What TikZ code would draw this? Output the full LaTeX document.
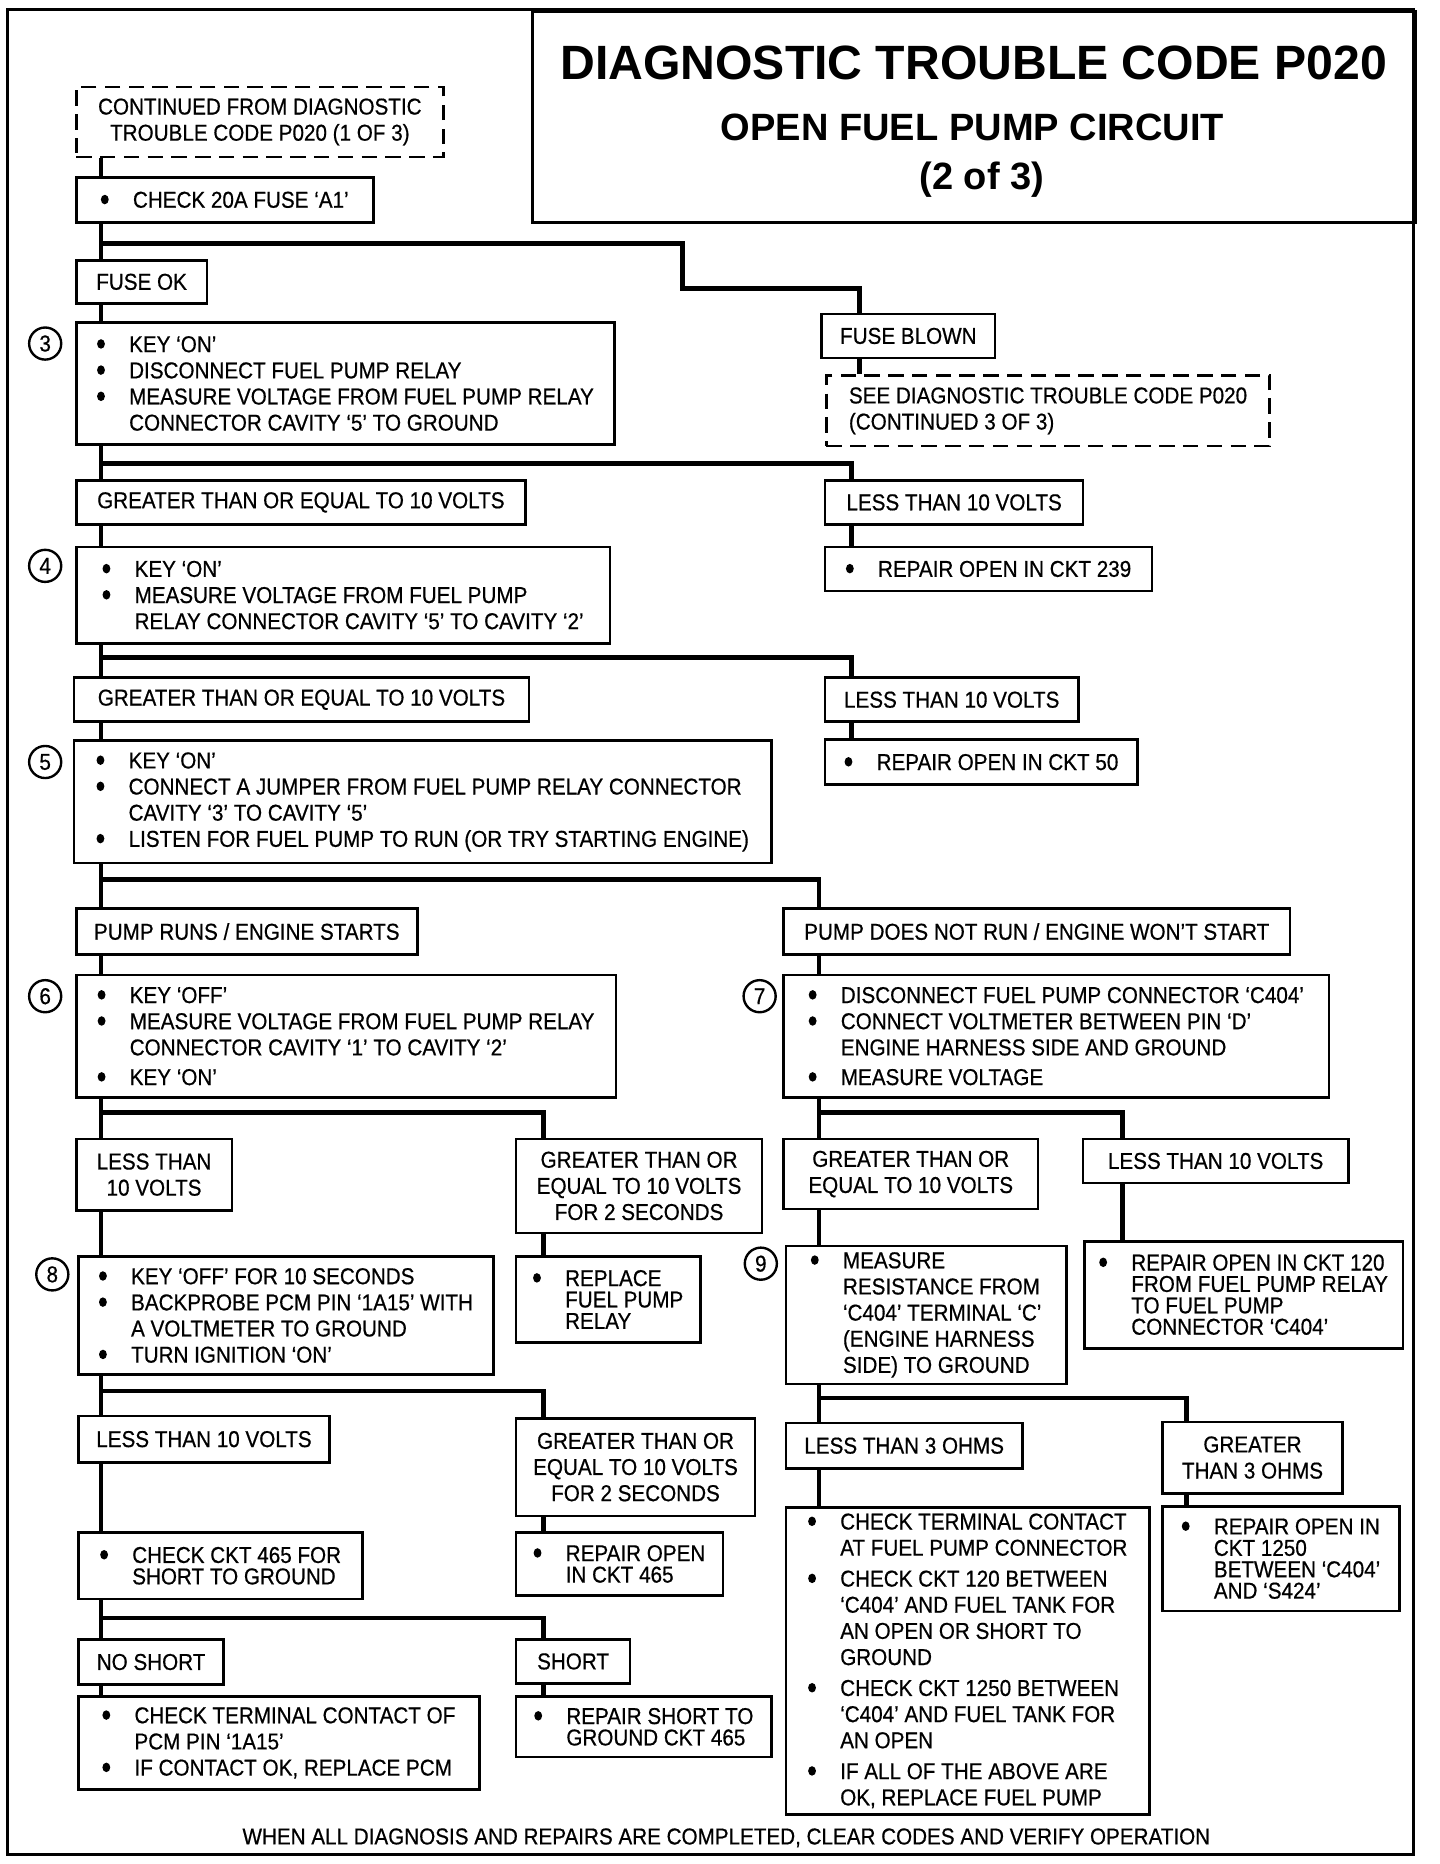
\documentclass[tikz,border=0pt]{standalone}
\usepackage{fontspec}
\setmainfont{Liberation Sans}[FakeStretch=0.9, FakeBold=0.6]
\newfontfamily\titlefont{Liberation Sans}
\usepackage{tikz}

\newcommand{\boxfont}{\fontsize{19.3}{22}\selectfont}
\newcommand{\tightfont}{\fontsize{19.3}{18}\selectfont}
\newcommand{\dotb}{\makebox[27pt][l]{\tikz[baseline=-6.9pt]\fill (0,0) ellipse (3.3pt and 4pt);}}
\newcommand{\ind}{\makebox[27pt]{}}

\begin{document}
\begin{tikzpicture}[x=1pt, y=-1pt,
    box/.style={draw, line width=2.2pt, anchor=north west, inner sep=0pt, font=\boxfont},
    lbl/.style={box, align=center},
    lst/.style={box, align=left},
    tight/.style={font=\tightfont},
    dsh/.style={dash pattern=on 13pt off 7pt},
    wire/.style={line width=4pt},
    num/.style={draw, circle, line width=2pt, minimum size=27pt, inner sep=0pt, font=\boxfont},
    sz/.style 2 args={minimum width=#1pt, minimum height=#2pt}]
        \useasboundingbox (0,0) rectangle (1211,1568);
        \draw[line width=2.6pt] (6,8) rectangle (1189,1560);

        % Title
        \node[box, sz={742}{178}, line width=2.6pt] (ttl) at (447,8) {};
        \node[font=\titlefont\bfseries\fontsize{40.5}{44}\selectfont] (t1) at (819,53) {DIAGNOSTIC TROUBLE CODE P020};
        \node[font=\titlefont\bfseries\fontsize{32}{36}\selectfont] (t2) at (818,107) {OPEN FUEL PUMP CIRCUIT};
        \node[font=\titlefont\bfseries\fontsize{32}{36}\selectfont] (t3) at (826,151) {(2 of 3)};

        % Fuse check
        \node[lbl, dsh, sz={309}{59}] (cont) at (63,72) {CONTINUED FROM DIAGNOSTIC\\TROUBLE CODE P020 (1 OF 3)};
        \node[lst, sz={250}{38}] (chk) at (63,148) {\dotb CHECK 20A FUSE `A1'};
        \node[lbl, sz={110}{36}] (fok) at (63,218) {FUSE OK};
        \node[lbl, sz={146}{37}] (fbl) at (690,263) {FUSE BLOWN};
        \node[lst, dsh, sz={373}{59}] (see) at (694,315) {SEE DIAGNOSTIC TROUBLE CODE P020\\(CONTINUED 3 OF 3)};

        % Step 3
        \node[num] (n3) at (38,289) {3};
        \node[lst, sz={453}{103}] (s3) at (63,270) {\dotb KEY `ON'\\
            \dotb DISCONNECT FUEL PUMP RELAY\\
            \dotb MEASURE VOLTAGE FROM FUEL PUMP RELAY\\
            \ind CONNECTOR CAVITY `5' TO GROUND};
        \node[lbl, sz={378}{37}] (ge1) at (63,403) {GREATER THAN OR EQUAL TO 10 VOLTS};
        \node[lbl, sz={217}{37}] (ls1) at (693,403) {LESS THAN 10 VOLTS};
        \node[lst, sz={275}{37}] (r239) at (693,459) {\dotb REPAIR OPEN IN CKT 239};

        % Step 4
        \node[num] (n4) at (38,476) {4};
        \node[lst, sz={449}{81}] (s4) at (63,459) {\dotb KEY `ON'\\
            \dotb MEASURE VOLTAGE FROM FUEL PUMP\\
            \ind RELAY CONNECTOR CAVITY `5' TO CAVITY `2'};
        \node[lbl, sz={383}{37}] (ge2) at (61,569) {GREATER THAN OR EQUAL TO 10 VOLTS};
        \node[lbl, sz={213}{37}] (ls2) at (693,569) {LESS THAN 10 VOLTS};
        \node[lst, sz={263}{38}] (r50) at (693,621) {\dotb REPAIR OPEN IN CKT 50};

        % Step 5
        \node[num] (n5) at (38,641) {5};
        \node[lst, sz={587}{103}] (s5) at (61,622) {\dotb KEY `ON'\\
            \dotb CONNECT A JUMPER FROM FUEL PUMP RELAY CONNECTOR\\
            \ind CAVITY `3' TO CAVITY `5'\\
            \dotb LISTEN FOR FUEL PUMP TO RUN (OR TRY STARTING ENGINE)};
        \node[lbl, sz={287}{39}] (prun) at (63,763) {PUMP RUNS / ENGINE STARTS};
        \node[lbl, sz={426}{39}] (pdn) at (658,763) {PUMP DOES NOT RUN / ENGINE WON'T START};

        % Steps 6 and 7
        \node[num] (n6) at (38,838) {6};
        \node[lst, sz={454}{103}] (s6) at (63,819) {\dotb KEY `OFF'\\
            \dotb MEASURE VOLTAGE FROM FUEL PUMP RELAY\\
            \ind CONNECTOR CAVITY `1' TO CAVITY `2'\\[3pt]
            \dotb KEY `ON'};
        \node[num] (n7) at (639,838) {7};
        \node[lst, sz={459}{103}] (s7) at (658,819) {\dotb DISCONNECT FUEL PUMP CONNECTOR `C404'\\
            \dotb CONNECT VOLTMETER BETWEEN PIN `D'\\
            \ind ENGINE HARNESS SIDE AND GROUND\\[3pt]
            \dotb MEASURE VOLTAGE};
        \node[lbl, sz={131}{60}] (lt1) at (63,957) {LESS THAN\\10 VOLTS};
        \node[lbl, sz={207}{79}] (ge4) at (433,957) {GREATER THAN OR\\EQUAL TO 10 VOLTS\\FOR 2 SECONDS};
        \node[lbl, sz={214}{59}] (ge3) at (658,957) {GREATER THAN OR\\EQUAL TO 10 VOLTS};
        \node[lbl, sz={223}{37}] (ls3) at (910,957) {LESS THAN 10 VOLTS};

        % Steps 8 and 9
        \node[num] (n8) at (44,1072) {8};
        \node[lst, sz={349}{99}] (s8) at (65,1056) {\dotb KEY `OFF' FOR 10 SECONDS\\
            \dotb BACKPROBE PCM PIN `1A15' WITH\\
            \ind A VOLTMETER TO GROUND\\
            \dotb TURN IGNITION `ON'};
        \node[lst, tight, sz={155}{72}] (rpl) at (433,1056) {\dotb REPLACE\\ \ind FUEL PUMP\\ \ind RELAY};
        \node[num] (n9) at (640,1063) {9};
        \node[lst, sz={236}{116}] (s9) at (660,1047) {\dotb MEASURE\\
            \ind RESISTANCE FROM\\
            \ind `C404' TERMINAL `C'\\
            \ind (ENGINE HARNESS\\
            \ind SIDE) TO GROUND};
        \node[lst, tight, sz={268}{90}] (r120) at (911,1043) {\dotb REPAIR OPEN IN CKT 120\\
            \ind FROM FUEL PUMP RELAY\\
            \ind TO FUEL PUMP\\
            \ind CONNECTOR `C404'};
        \node[lbl, sz={211}{39}] (ls4) at (65,1190) {LESS THAN 10 VOLTS};
        \node[lbl, sz={201}{82}] (ge5) at (433,1192) {GREATER THAN OR\\EQUAL TO 10 VOLTS\\FOR 2 SECONDS};
        \node[lbl, sz={199}{38}] (lt3) at (660,1196) {LESS THAN 3 OHMS};
        \node[lbl, sz={151}{60}] (gt3) at (977,1195) {GREATER\\THAN 3 OHMS};

        % Repairs
        \node[lst, tight, sz={239}{56}] (c465) at (65,1288) {\dotb CHECK CKT 465 FOR\\ \ind SHORT TO GROUND};
        \node[lst, tight, sz={174}{53}] (r465) at (433,1288) {\dotb REPAIR OPEN\\ \ind IN CKT 465};
        \node[lst, sz={306}{258}] (big) at (660,1267) {\dotb CHECK TERMINAL CONTACT\\
            \ind AT FUEL PUMP CONNECTOR\\[4pt]
            \dotb CHECK CKT 120 BETWEEN\\
            \ind `C404' AND FUEL TANK FOR\\
            \ind AN OPEN OR SHORT TO\\
            \ind GROUND\\[4pt]
            \dotb CHECK CKT 1250 BETWEEN\\
            \ind `C404' AND FUEL TANK FOR\\
            \ind AN OPEN\\[4pt]
            \dotb IF ALL OF THE ABOVE ARE\\
            \ind OK, REPLACE FUEL PUMP};
        \node[lst, tight, sz={199}{88}] (r1250) at (977,1266) {\dotb REPAIR OPEN IN\\
            \ind CKT 1250\\
            \ind BETWEEN `C404'\\
            \ind AND `S424'};
        \node[lbl, sz={122}{38}] (nosh) at (65,1378) {NO SHORT};
        \node[lbl, sz={96}{37}] (sht) at (433,1378) {SHORT};
        \node[lst, sz={337}{78}] (pcm) at (65,1426) {\dotb CHECK TERMINAL CONTACT OF\\
            \ind PCM PIN `1A15'\\
            \dotb IF CONTACT OK, REPLACE PCM};
        \node[lst, tight, sz={215}{51}] (rsh) at (433,1426) {\dotb REPAIR SHORT TO\\ \ind GROUND CKT 465};

        \node[font=\boxfont] (foot) at (611,1546) {WHEN ALL DIAGNOSIS AND REPAIRS ARE COMPLETED, CLEAR CODES AND VERIFY OPERATION};

        % Lines
        \coordinate (sp) at (85,0);
        \coordinate (c1) at (723,0);
        \coordinate (c2) at (716,0);
        \coordinate (c3) at (689,0);
        \coordinate (c4) at (457,0);
        \coordinate (c5) at (944,0);
        \coordinate (c6) at (998,0);
        \coordinate (j1) at (85,205);
        \coordinate (k1) at (574,243);
        \coordinate (j2) at (85,390);
        \coordinate (j3) at (85,553);
        \coordinate (j4) at (85,740);
        \coordinate (j5) at (85,936);
        \coordinate (j6) at (689,936);
        \coordinate (j7) at (85,1170);
        \coordinate (j8) at (689,1176);
        \coordinate (j9) at (85,1361);

        \draw[wire] (cont.south -| sp) -- (chk.north -| sp);
        \draw[wire] (chk.south -| sp) -- (fok.north -| sp);
        \draw[wire] (fok.south -| sp) -- (s3.north -| sp);
        \draw[wire] (s3.south -| sp) -- (ge1.north -| sp);
        \draw[wire] (ge1.south -| sp) -- (s4.north -| sp);
        \draw[wire] (s4.south -| sp) -- (ge2.north -| sp);
        \draw[wire] (ge2.south -| sp) -- (s5.north -| sp);
        \draw[wire] (s5.south -| sp) -- (prun.north -| sp);
        \draw[wire] (prun.south -| sp) -- (s6.north -| sp);
        \draw[wire] (s6.south -| sp) -- (lt1.north -| sp);
        \draw[wire] (lt1.south -| sp) -- (s8.north -| sp);
        \draw[wire] (s8.south -| sp) -- (ls4.north -| sp);
        \draw[wire] (ls4.south -| sp) -- (c465.north -| sp);
        \draw[wire] (c465.south -| sp) -- (nosh.north -| sp);
        \draw[wire] (nosh.south -| sp) -- (pcm.north -| sp);

        \draw[wire] (j1) -| (k1) -| (fbl.north -| c1);
        \draw[wire] (fbl.south -| c1) -- (see.north -| c1);
        \draw[wire] (j2) -| (ls1.north -| c2);
        \draw[wire] (ls1.south -| c2) -- (r239.north -| c2);
        \draw[wire] (j3) -| (ls2.north -| c2);
        \draw[wire] (ls2.south -| c2) -- (r50.north -| c2);
        \draw[wire] (j4) -| (pdn.north -| c3);
        \draw[wire] (pdn.south -| c3) -- (s7.north -| c3);
        \draw[wire] (s7.south -| c3) -- (ge3.north -| c3);
        \draw[wire] (j6) -| (ls3.north -| c5);
        \draw[wire] (ls3.south -| c5) -- (r120.north -| c5);
        \draw[wire] (ge3.south -| c3) -- (s9.north -| c3);
        \draw[wire] (s9.south -| c3) -- (lt3.north -| c3);
        \draw[wire] (j8) -| (gt3.north -| c6);
        \draw[wire] (gt3.south -| c6) -- (r1250.north -| c6);
        \draw[wire] (lt3.south -| c3) -- (big.north -| c3);
        \draw[wire] (j5) -| (ge4.north -| c4);
        \draw[wire] (ge4.south -| c4) -- (rpl.north -| c4);
        \draw[wire] (j7) -| (ge5.north -| c4);
        \draw[wire] (ge5.south -| c4) -- (r465.north -| c4);
        \draw[wire] (j9) -| (sht.north -| c4);
        \draw[wire] (sht.south -| c4) -- (rsh.north -| c4);
    \end{tikzpicture}
\end{document}
